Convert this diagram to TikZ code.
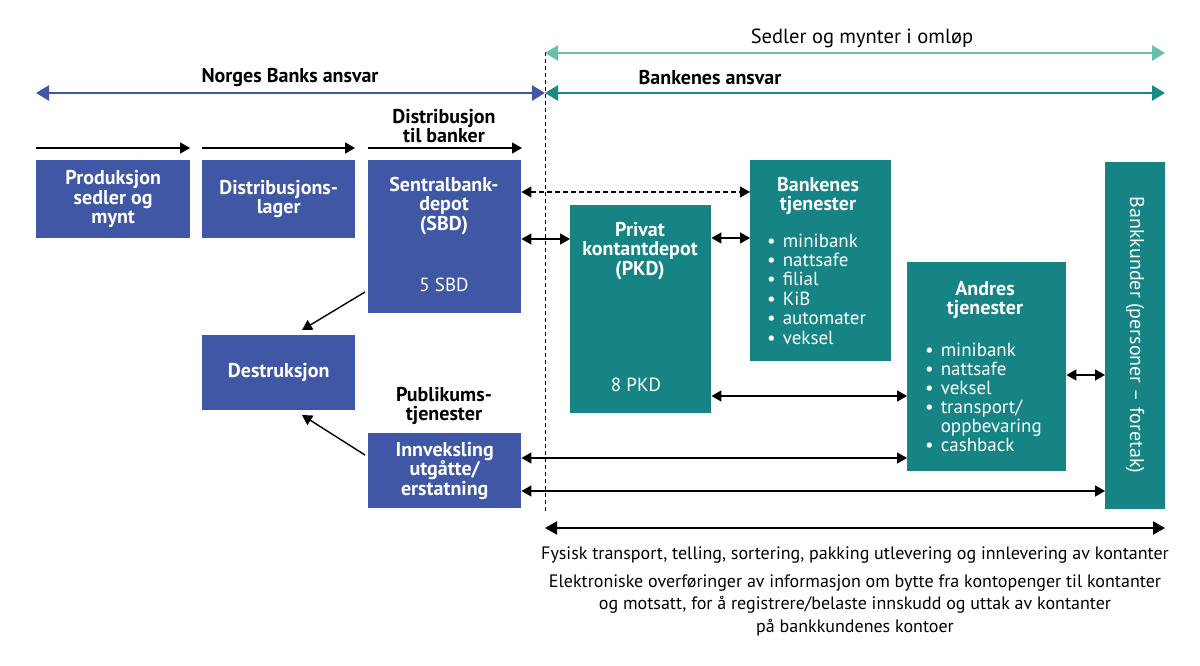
\documentclass[tikz,border=0pt]{standalone}
\usepackage{fontspec}
\setmainfont{PT Sans}
\usetikzlibrary{arrows.meta}
\definecolor{nbblue}{HTML}{4057A5}
\definecolor{bteal}{HTML}{168385}
\definecolor{lteal}{HTML}{68C0AC}
\definecolor{dteal}{HTML}{1A8A87}
\begin{document}
\begin{tikzpicture}[x=1pt,y=-1pt,
  box/.style={draw=none, inner sep=0pt, anchor=north west, text=white, align=center,
    font=\fontsize{20}{19.5}\selectfont\bfseries},
  bluebox/.style={box, fill=nbblue},
  tealbox/.style={box, fill=bteal},
  wt/.style={text=white, align=center, inner sep=0pt, font=\fontsize{19}{19.5}\selectfont},
  wtb/.style={wt, font=\fontsize{20}{19.5}\selectfont\bfseries},
  lbl/.style={align=center, inner sep=0pt, font=\fontsize{20}{19.5}\selectfont\bfseries},
  rlbl/.style={align=center, inner sep=0pt, font=\fontsize{18}{22.5}\selectfont},
  tip/.tip={Triangle[length=10pt,width=11pt]},
  arr/.style={-tip, line width=1.4pt},
  biarr/.style={tip-tip, line width=1.4pt},
  bigtip/.tip={Triangle[length=13pt,width=15pt]},
]
\useasboundingbox (0,0) rectangle (1200,666);

% vertical dashed separator
\coordinate (dTop) at (545,52);
\coordinate (dBot) at (545,512);
\draw[dash pattern=on 4pt off 3pt, line width=0.8pt] (dTop) -- (dBot);

% top arrows
\coordinate (omL) at (545,53);
\coordinate (omR) at (1165,53);
\draw[bigtip-bigtip, lteal, line width=2.6pt] (omL) -- (omR);
\node[rlbl, font=\fontsize{20.5}{20}\selectfont] (omtxt) at (862,38) {Sedler og mynter i omløp};

\coordinate (nbL) at (36,93);
\coordinate (nbR) at (545,93);
\draw[bigtip-bigtip, nbblue, line width=2.6pt] (nbL) -- (nbR);
\node[lbl] (nbtxt) at (290,78) {Norges Banks ansvar};

\coordinate (bkL) at (545,93);
\coordinate (bkR) at (1165,93);
\draw[bigtip-bigtip, dteal, line width=2.6pt] (bkL) -- (bkR);
\node[lbl] (bktxt) at (710,78) {Bankenes ansvar};

% small process arrows
\coordinate (p1a) at (36,148); \coordinate (p1b) at (190,148);
\coordinate (p2a) at (202,148); \coordinate (p2b) at (355,148);
\coordinate (p3a) at (368,148); \coordinate (p3b) at (522,148);
\draw[arr] (p1a) -- (p1b);
\draw[arr] (p2a) -- (p2b);
\draw[arr] (p3a) -- (p3b);
\node[lbl] (distlbl) at (444,126) {Distribusjon\\til banker};

% blue boxes
\node[bluebox, minimum width=154pt, minimum height=78pt] (prod) at (36,160) {Produksjon\\sedler og\\mynt};
\node[bluebox, minimum width=153pt, minimum height=78pt] (lager) at (202,160) {Distribusjons-\\lager};
\node[bluebox, minimum width=153pt, minimum height=153pt] (sbd) at (368,160) {};
\node[wtb] (sbdt) at (444,206) {Sentralbank-\\depot\\(SBD)};
\node[wt] (sbdn) at (444,285) {5 SBD};
\node[bluebox, minimum width=153pt, minimum height=75pt] (destr) at (202,335) {Destruksjon};
\node[lbl] (publbl) at (444,406) {Publikums-\\tjenester};
\node[bluebox, minimum width=153pt, minimum height=75pt] (innv) at (368,433) {Innveksling\\utgåtte/\\erstatning};

% teal boxes
\node[tealbox, minimum width=141pt, minimum height=208pt] (pkd) at (570,205) {};
\node[wtb] (pkdt) at (640,251) {Privat\\kontantdepot\\(PKD)};
\node[wt] (pkdn) at (636,385) {8 PKD};

\node[tealbox, minimum width=141pt, minimum height=201pt] (bt) at (750,160) {};
\node[wtb] (btt) at (818,196) {Bankenes\\tjenester};
\node[wt, anchor=base west, align=left] (btl) at (767,247)
  {\fontsize{19}{19.4}\selectfont\begin{tabular}[t]{@{}l@{\hspace{7pt}}l@{}}
  •&minibank\\ •&nattsafe\\ •&filial\\ •&KiB\\ •&automater\\ •&veksel
  \end{tabular}};

\node[tealbox, minimum width=159pt, minimum height=209pt] (andre) at (907,262) {};
\node[wtb] (andret) at (985,300) {Andres\\tjenester};
\node[wt, anchor=base west, align=left] (andrel) at (925,356)
  {\fontsize{19}{19}\selectfont\begin{tabular}[t]{@{}l@{\hspace{7pt}}l@{}}
  •&minibank\\ •&nattsafe\\ •&veksel\\ •&transport/\\ &oppbevaring\\ •&cashback
  \end{tabular}};

\node[tealbox, minimum width=60pt, minimum height=347pt] (kund) at (1105,162) {};
\node[wt, rotate=-90, font=\fontsize{20}{20}\selectfont] (kundt) at (1135,335) {Bankkunder (personer – foretak)};

% connectors
\draw[tip-tip, dash pattern=on 5pt off 3pt, line width=1.2pt] (sbd.east |- 0,192) -- (bt.west |- 0,192);
\draw[biarr] (sbd.east |- 0,239) -- (pkd.west |- 0,239);
\draw[biarr] (pkd.east |- 0,238) -- (bt.west |- 0,238);
\draw[biarr] (pkd.east |- 0,396) -- (andre.west |- 0,396);
\draw[biarr] (andre.east |- 0,375) -- (kund.west |- 0,375);
\draw[biarr] (innv.east |- 0,458) -- (andre.west |- 0,458);
\draw[biarr] (innv.east |- 0,491) -- (kund.west |- 0,491);
\draw[arr] (365,292) -- (302,330);
\draw[arr] (365,455) -- (302,415);

% bottom
\coordinate (bL) at (545,528);
\coordinate (bR) at (1165,528);
\draw[{Triangle[length=12pt,width=13pt]}-{Triangle[length=12pt,width=13pt]}, line width=2pt] (bL) -- (bR);
\node[rlbl] (fys) at (855,555) {Fysisk transport, telling, sortering, pakking utlevering og innlevering av kontanter};
\node[rlbl] (elek) at (855,605) {Elektroniske overføringer av informasjon om bytte fra kontopenger til kontanter\\og motsatt, for å registrere/belaste innskudd og uttak av kontanter\\på bankkundenes kontoer};
\end{tikzpicture}
\end{document}
